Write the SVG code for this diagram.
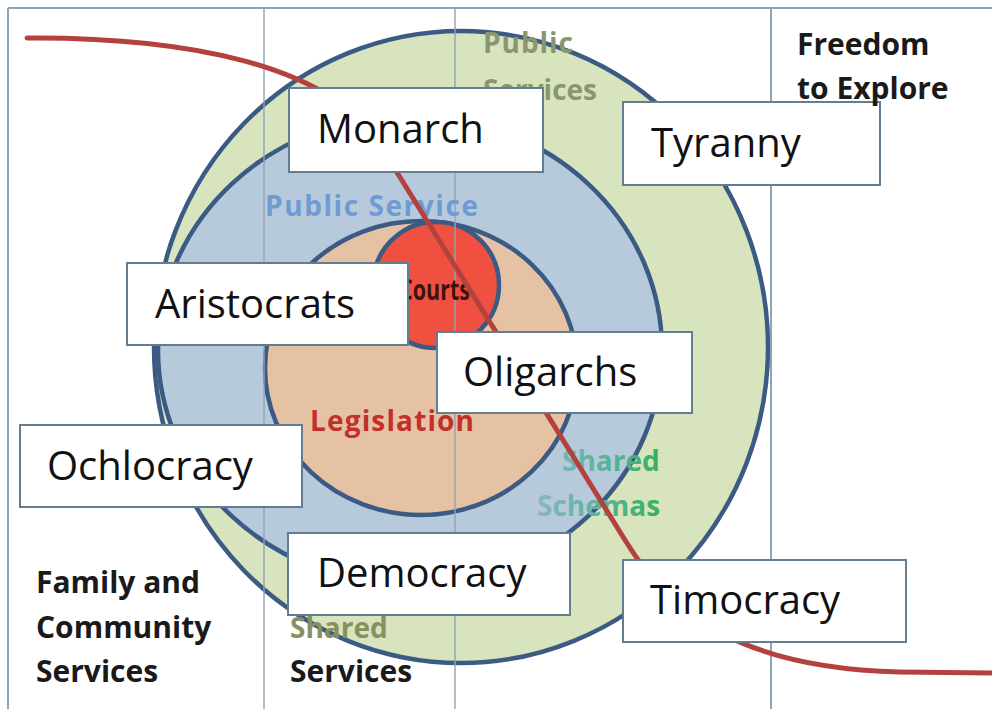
<svg xmlns="http://www.w3.org/2000/svg" width="992" height="709" viewBox="0 0 992 709">
<defs>
<style>
.ring{stroke:#3b5b85;stroke-width:4.5}
.grid{stroke:#8fa3b6;stroke-width:2;fill:none}
.box{fill:#ffffff;stroke:#647d93;stroke-width:2}
.lbl{font-family:"Open Sans","Liberation Sans",sans-serif;font-size:40px;fill:#111111}
.side{font-family:"Open Sans","Liberation Sans",sans-serif;font-size:30px;font-weight:700;fill:#1a1a1a}
.zone{font-family:"Open Sans","Liberation Sans",sans-serif;font-size:28px;font-weight:700}
</style>
<linearGradient id="sg" gradientUnits="userSpaceOnUse" x1="538" y1="0" x2="672" y2="0">
<stop offset="0" stop-color="#86b6bc"/>
<stop offset="0.5" stop-color="#5ab39a"/>
<stop offset="1" stop-color="#2fb04f"/>
</linearGradient>
</defs>
<rect x="0" y="0" width="992" height="709" fill="#ffffff"/>

<g id="rings">
<ellipse class="ring" cx="461" cy="347" rx="307" ry="316" fill="#d8e4bd"/>
<ellipse class="ring" cx="410" cy="350" rx="252" ry="235" fill="#b7cadc"/>
<ellipse class="ring" cx="421" cy="368" rx="156" ry="147" fill="#e6c2a4"/>
<circle class="ring" cx="436" cy="285" r="63" fill="#f0503f"/>
</g>

<g id="grid">
<line class="grid" x1="8" y1="8" x2="992" y2="8"/>
<line class="grid" x1="8" y1="8" x2="8" y2="709"/>
<line class="grid" x1="264" y1="8" x2="264" y2="709" opacity="0.7"/>
<line class="grid" x1="455" y1="8" x2="455" y2="709" opacity="0.7"/>
<line class="grid" x1="771" y1="8" x2="771" y2="709"/>
</g>

<g id="zone-texts">
<text class="zone" x="483" y="53" fill="#8a9670" textLength="90">Public</text>
<text class="zone" x="483" y="100" fill="#8a9670">Services</text>
<text class="zone" x="265" y="216" fill="#6f9bd2" textLength="213">Public Service</text>
<text class="zone" x="399" y="300" fill="#3f1210" font-size="18px" textLength="71" lengthAdjust="spacingAndGlyphs">Courts</text>
<text class="zone" x="310" y="431" fill="#c3302a" textLength="164">Legislation</text>
<text class="zone" x="562" y="471" fill="url(#sg)">Shared</text>
<text class="zone" x="537" y="516" fill="url(#sg)">Schemas</text>
<text class="zone" x="290" y="638" fill="#86915f">Shared</text>
</g>

<g id="connectors">
<path d="M27,38 C180,37 330,63 380,145 L625,540 C670,614 740,668 900,672 L992,673" fill="none" stroke="#b3423f" stroke-width="5" stroke-linecap="round"/>
</g>

<g id="node-monarch">
<rect class="box" x="289" y="88" width="254" height="84"/>
<text class="lbl" x="317" y="143">Monarch</text>
</g>
<g id="node-tyranny">
<rect class="box" x="623" y="102" width="257" height="83"/>
<text class="lbl" x="651" y="157">Tyranny</text>
</g>
<g id="node-aristocrats">
<rect class="box" x="127" y="263" width="281" height="82"/>
<text class="lbl" x="155" y="318">Aristocrats</text>
</g>
<g id="node-oligarchs">
<rect class="box" x="437" y="332" width="255" height="81"/>
<text class="lbl" x="463" y="386">Oligarchs</text>
</g>
<g id="node-ochlocracy">
<rect class="box" x="20" y="425" width="282" height="82"/>
<text class="lbl" x="47" y="480">Ochlocracy</text>
</g>
<g id="node-democracy">
<rect class="box" x="288" y="533" width="282" height="82"/>
<text class="lbl" x="317" y="587">Democracy</text>
</g>
<g id="node-timocracy">
<rect class="box" x="623" y="560" width="283" height="82"/>
<text class="lbl" x="650" y="614">Timocracy</text>
</g>

<g id="side-labels">
<text class="side" x="797" y="55">Freedom</text>
<text class="side" x="797" y="99">to Explore</text>
<text class="side" x="36" y="593">Family and</text>
<text class="side" x="36" y="638">Community</text>
<text class="side" x="36" y="682">Services</text>
<text class="side" x="290" y="682">Services</text>
</g>
</svg>
